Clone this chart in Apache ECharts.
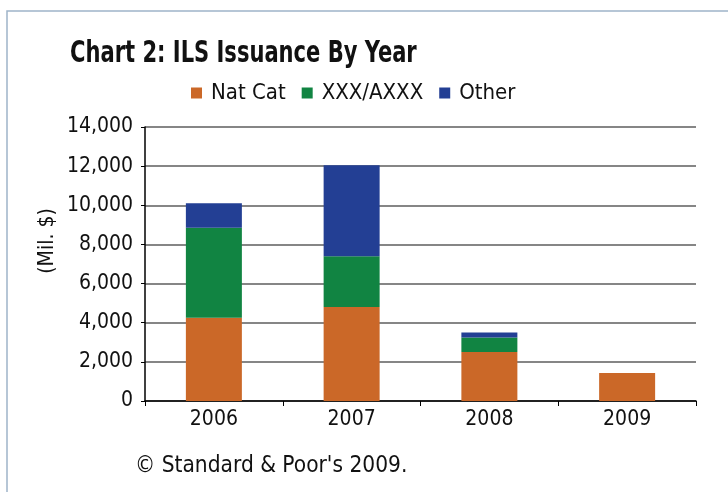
<!DOCTYPE html>
<html>
<head>
<meta charset="utf-8">
<script src="https://cdn.jsdelivr.net/npm/echarts@6/dist/echarts.min.js"></script>
<style>
  html, body { margin: 0; padding: 0; background: #ffffff; }
  #chart { width: 728px; height: 492px; }
</style>
</head>
<body>
<div id="chart"></div>
<script>
// ILS issuance by year, stacked by trigger type (Mil. $)
const years = ['2006', '2007', '2008', '2009'];
const natCat = [4250, 4800, 2500, 1430];
const xxxAxxx = [4600, 2600, 750, 0];
const other = [1250, 4650, 250, 0];
const yTicks = [0, 2000, 4000, 6000, 8000, 10000, 12000, 14000];

const FONT = '"Liberation Sans Narrow", "DejaVu Sans Condensed", "Roboto", sans-serif';

const chart = echarts.init(document.getElementById('chart'), null, { renderer: 'canvas' });

function stackSeries(name, data, color) {
  return {
    name: name,
    type: 'bar',
    stack: 'total',
    data: data,
    barWidth: 56,
    itemStyle: { color: color },
    emphasis: { disabled: true }
  };
}

chart.setOption({
  animation: false,
  backgroundColor: '#ffffff',
  textStyle: { fontFamily: FONT },
  graphic: [
    {
      type: 'rect',
      shape: { x: 7, y: 11, width: 800, height: 600 },
      style: { fill: 'none', stroke: '#9fb4c9', lineWidth: 1.5 },
      silent: true
    },
    {
      // condensed bold heading
      type: 'text',
      x: 70,
      y: 69,
      scaleX: 0.78,
      style: {
        text: 'Chart 2: ILS Issuance By Year',
        font: 'bold 30px ' + FONT,
        fill: '#111111',
        textVerticalAlign: 'bottom'
      }
    },
    {
      type: 'text',
      x: 48,
      y: 241,
      rotation: Math.PI / 2,
      style: {
        text: '(Mil. $)',
        font: '21px ' + FONT,
        fill: '#111111',
        textAlign: 'center',
        textVerticalAlign: 'middle'
      }
    },
    {
      type: 'text',
      left: 135,
      top: 455,
      style: {
        text: '\u00A9 Standard & Poor\'s 2009.',
        font: '22.5px ' + FONT,
        fill: '#111111'
      }
    }
  ],
  legend: {
    data: ['Nat Cat', 'XXX/AXXX', 'Other'],
    left: 186,
    top: 77,
    icon: 'rect',
    itemWidth: 11,
    itemHeight: 11,
    itemGap: 16,
    textStyle: { fontFamily: FONT, fontSize: 22, color: '#111111', padding: [0, 0, 0, 4] }
  },
  grid: { left: 145, right: 32, top: 127, bottom: 91 },
  xAxis: {
    type: 'category',
    data: years,
    axisLine: { lineStyle: { color: '#000000', width: 1.5 } },
    axisTick: { show: true, alignWithLabel: false, length: 5, lineStyle: { color: '#000000' } },
    axisLabel: { fontFamily: FONT, fontSize: 21, color: '#111111', margin: 8 }
  },
  yAxis: {
    type: 'value',
    min: yTicks[0],
    max: yTicks[yTicks.length - 1],
    interval: 2000,
    axisLine: { show: true, lineStyle: { color: '#000000', width: 1.5 } },
    axisTick: { show: true, length: 4, lineStyle: { color: '#000000' } },
    axisLabel: {
      fontFamily: FONT, fontSize: 21, color: '#111111', margin: 12,
      formatter: function (v) { return v.toLocaleString('en-US'); }
    },
    splitLine: { show: true, lineStyle: { color: '#5e5e5e', width: 1.5 } }
  },
  series: [
    stackSeries('Nat Cat', natCat, '#cb6828'),
    stackSeries('XXX/AXXX', xxxAxxx, '#118442'),
    stackSeries('Other', other, '#233f94')
  ]
});
</script>
</body>
</html>
